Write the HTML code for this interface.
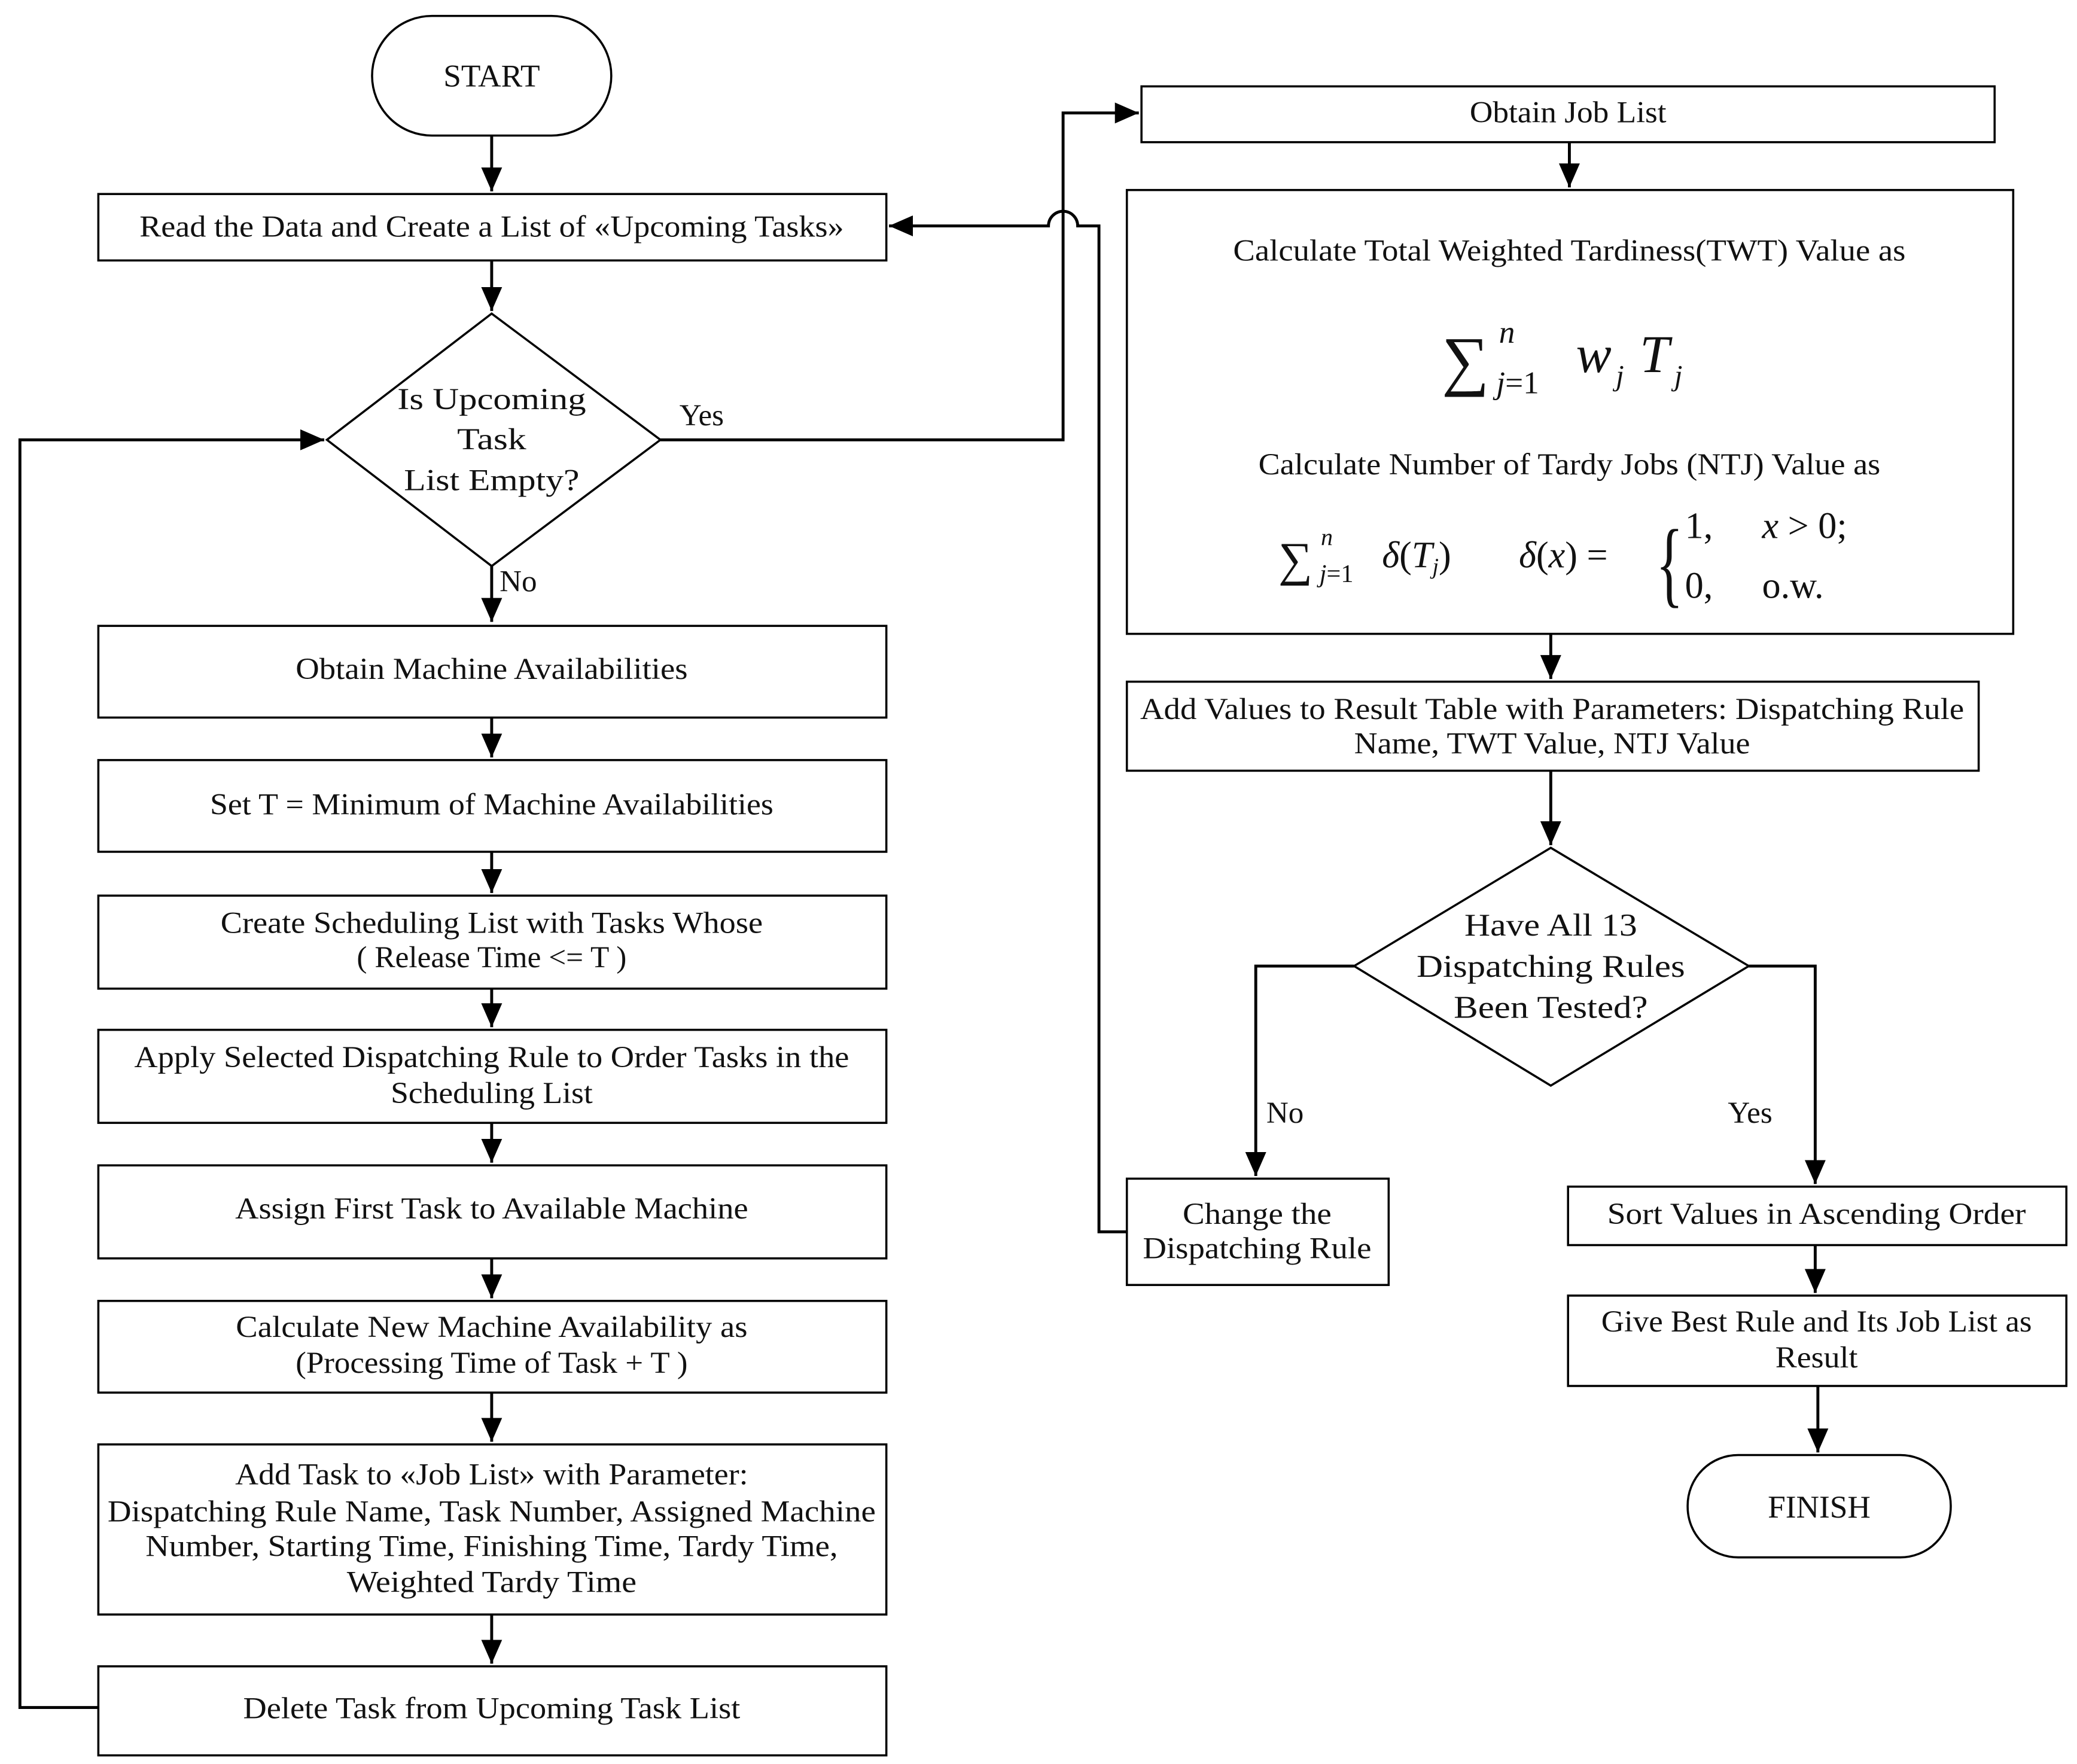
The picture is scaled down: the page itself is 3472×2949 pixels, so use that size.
<!DOCTYPE html>
<html><head><meta charset="utf-8"><style>
html,body{margin:0;padding:0;background:#fff;}
svg{display:block;}
text{font-family:"Liberation Serif",serif;fill:#111;}
.m{font-style:italic;}
</style></head><body>
<svg width="3472" height="2949" viewBox="0 0 1563 1327.5" preserveAspectRatio="none" xmlns="http://www.w3.org/2000/svg">
<defs>
<marker id="b" markerWidth="18" markerHeight="18" refX="16" refY="8" orient="auto" markerUnits="userSpaceOnUse" viewBox="0 0 16 16"><path d="M0,1 L16,8 L0,15 z" fill="#000"/></marker></defs>
<g fill="none" stroke="#000" stroke-width="1.6">
<rect x="280" y="12" width="180" height="90" rx="45" ry="45"/>
<rect x="74" y="146" width="593" height="50"/>
<polygon points="370,236 497,331 370,426 246,331"/>
<rect x="74" y="471" width="593" height="69"/>
<rect x="74" y="572" width="593" height="69"/>
<rect x="74" y="674" width="593" height="70"/>
<rect x="74" y="775" width="593" height="70"/>
<rect x="74" y="877" width="593" height="70"/>
<rect x="74" y="979" width="593" height="69"/>
<rect x="74" y="1087" width="593" height="128"/>
<rect x="74" y="1254" width="593" height="67"/>
<rect x="859" y="65" width="642" height="42"/>
<rect x="848" y="143" width="667" height="334"/>
<rect x="848" y="513" width="641" height="67"/>
<polygon points="1167,638 1316,727 1167,817 1019,727"/>
<rect x="848" y="887" width="197" height="80"/>
<rect x="1180" y="893" width="375" height="44"/>
<rect x="1180" y="975" width="375" height="68"/>
<rect x="1270" y="1095" width="198" height="77" rx="38" ry="38"/>
</g>
<g fill="none" stroke="#000" stroke-width="2.2">
<path d="M370,102 V144" marker-end="url(#b)"/>
<path d="M370,196 V234" marker-end="url(#b)"/>
<path d="M370,426 V468" marker-end="url(#b)"/>
<path d="M370,540 V570" marker-end="url(#b)"/>
<path d="M370,641 V672" marker-end="url(#b)"/>
<path d="M370,744 V773" marker-end="url(#b)"/>
<path d="M370,845 V875" marker-end="url(#b)"/>
<path d="M370,947 V977" marker-end="url(#b)"/>
<path d="M370,1048 V1085" marker-end="url(#b)"/>
<path d="M370,1215 V1252" marker-end="url(#b)"/>
<path d="M74,1285 H15 V331 H244" marker-end="url(#b)"/>
<path d="M497,331 H800 V85 H857" marker-end="url(#b)"/>
<path d="M1181,107 V141" marker-end="url(#b)"/>
<path d="M1167,477 V511" marker-end="url(#b)"/>
<path d="M1167,580 V636" marker-end="url(#b)"/>
<path d="M1019,727 H945 V885" marker-end="url(#b)"/>
<path d="M1316,727 H1366 V891" marker-end="url(#b)"/>
<path d="M1366,937 V973" marker-end="url(#b)"/>
<path d="M1368,1043 V1093" marker-end="url(#b)"/>
<path d="M848,927 H827 V170 H811 A11,11 0 0 0 789,170 H669" marker-end="url(#b)"/>
</g>
<g text-anchor="middle" font-size="23">
<text x="370" y="65" font-size="24">START</text>
<text x="370" y="178" textLength="530" lengthAdjust="spacingAndGlyphs">Read the Data and Create a List of «Upcoming Tasks»</text>
<text x="370" y="308" textLength="142" lengthAdjust="spacingAndGlyphs">Is Upcoming</text>
<text x="370" y="338" textLength="52" lengthAdjust="spacingAndGlyphs">Task</text>
<text x="370" y="369" textLength="132" lengthAdjust="spacingAndGlyphs">List Empty?</text>
<text x="528" y="320">Yes</text>
<text x="390" y="445">No</text>
<text x="370" y="511" textLength="295" lengthAdjust="spacingAndGlyphs">Obtain Machine Availabilities</text>
<text x="370" y="613" textLength="424" lengthAdjust="spacingAndGlyphs">Set T = Minimum of Machine Availabilities</text>
<text x="370" y="702" textLength="408" lengthAdjust="spacingAndGlyphs">Create Scheduling List with Tasks Whose</text>
<text x="370" y="728" textLength="203" lengthAdjust="spacingAndGlyphs">( Release Time &lt;= T )</text>
<text x="370" y="803" textLength="538" lengthAdjust="spacingAndGlyphs">Apply Selected Dispatching Rule to Order Tasks in the</text>
<text x="370" y="830" textLength="152" lengthAdjust="spacingAndGlyphs">Scheduling List</text>
<text x="370" y="917" textLength="386" lengthAdjust="spacingAndGlyphs">Assign First Task to Available Machine</text>
<text x="370" y="1006" textLength="385" lengthAdjust="spacingAndGlyphs">Calculate New Machine Availability as</text>
<text x="370" y="1033" textLength="295" lengthAdjust="spacingAndGlyphs">(Processing Time of Task + T )</text>
<text x="370" y="1117" textLength="386" lengthAdjust="spacingAndGlyphs">Add Task to «Job List» with Parameter:</text>
<text x="370" y="1145" textLength="578" lengthAdjust="spacingAndGlyphs">Dispatching Rule Name, Task Number, Assigned Machine</text>
<text x="370" y="1171" textLength="521" lengthAdjust="spacingAndGlyphs">Number, Starting Time, Finishing Time, Tardy Time,</text>
<text x="370" y="1198" textLength="218" lengthAdjust="spacingAndGlyphs">Weighted Tardy Time</text>
<text x="370" y="1293" textLength="374" lengthAdjust="spacingAndGlyphs">Delete Task from Upcoming Task List</text>
<text x="1180" y="92" textLength="148" lengthAdjust="spacingAndGlyphs">Obtain Job List</text>
<text x="1181" y="196" textLength="506" lengthAdjust="spacingAndGlyphs">Calculate Total Weighted Tardiness(TWT) Value as</text>
<text x="1181" y="357" textLength="468" lengthAdjust="spacingAndGlyphs">Calculate Number of Tardy Jobs (NTJ) Value as</text>
<text x="1168" y="541" textLength="620" lengthAdjust="spacingAndGlyphs">Add Values to Result Table with Parameters: Dispatching Rule</text>
<text x="1168" y="567" textLength="298" lengthAdjust="spacingAndGlyphs">Name, TWT Value, NTJ Value</text>
<text x="1167" y="704" font-size="24" textLength="130" lengthAdjust="spacingAndGlyphs">Have All 13</text>
<text x="1167" y="735" font-size="24" textLength="202" lengthAdjust="spacingAndGlyphs">Dispatching Rules</text>
<text x="1167" y="766" font-size="24" textLength="146" lengthAdjust="spacingAndGlyphs">Been Tested?</text>
<text x="967" y="845">No</text>
<text x="1317" y="845">Yes</text>
<text x="946" y="921" textLength="112" lengthAdjust="spacingAndGlyphs">Change the</text>
<text x="946" y="947" textLength="172" lengthAdjust="spacingAndGlyphs">Dispatching Rule</text>
<text x="1367" y="921" textLength="315" lengthAdjust="spacingAndGlyphs">Sort Values in Ascending Order</text>
<text x="1367" y="1002" textLength="324" lengthAdjust="spacingAndGlyphs">Give Best Rule and Its Job List as</text>
<text x="1367" y="1029" textLength="62" lengthAdjust="spacingAndGlyphs">Result</text>
<text x="1369" y="1142" font-size="24">FINISH</text>
</g>
<!-- formula 1 -->
<text x="1085" y="288" font-size="50">∑</text>
<text x="1128" y="258" font-size="24" class="m">n</text>
<text x="1126" y="296" font-size="24"><tspan class="m">j</tspan>=1</text>
<text x="1186" y="280" font-size="40" class="m">w</text>
<text x="1216" y="290" font-size="22" class="m">j</text>
<text x="1234" y="280" font-size="40" class="m">T</text>
<text x="1260" y="290" font-size="22" class="m">j</text>
<!-- formula 2 -->
<text x="962" y="433" font-size="36">∑</text>
<text x="994" y="410" font-size="18" class="m">n</text>
<text x="993" y="438" font-size="19"><tspan class="m">j</tspan>=1</text>
<text x="1040" y="427" font-size="28"><tspan class="m">δ</tspan>(<tspan class="m">T</tspan><tspan font-size="17" class="m" dy="5">j</tspan><tspan dy="-5">)</tspan></text>
<text x="1143" y="427" font-size="28"><tspan class="m">δ</tspan>(<tspan class="m">x</tspan>) =</text>
<text x="1246" y="448" font-size="72" transform="translate(1246,420) scale(0.6,1) translate(-1246,-420)">{</text>
<text x="1268" y="405" font-size="28">1,</text>
<text x="1326" y="405" font-size="28"><tspan class="m">x</tspan> &gt; 0;</text>
<text x="1268" y="450" font-size="28">0,</text>
<text x="1326" y="450" font-size="28">o.w.</text>
</svg>
</body></html>
